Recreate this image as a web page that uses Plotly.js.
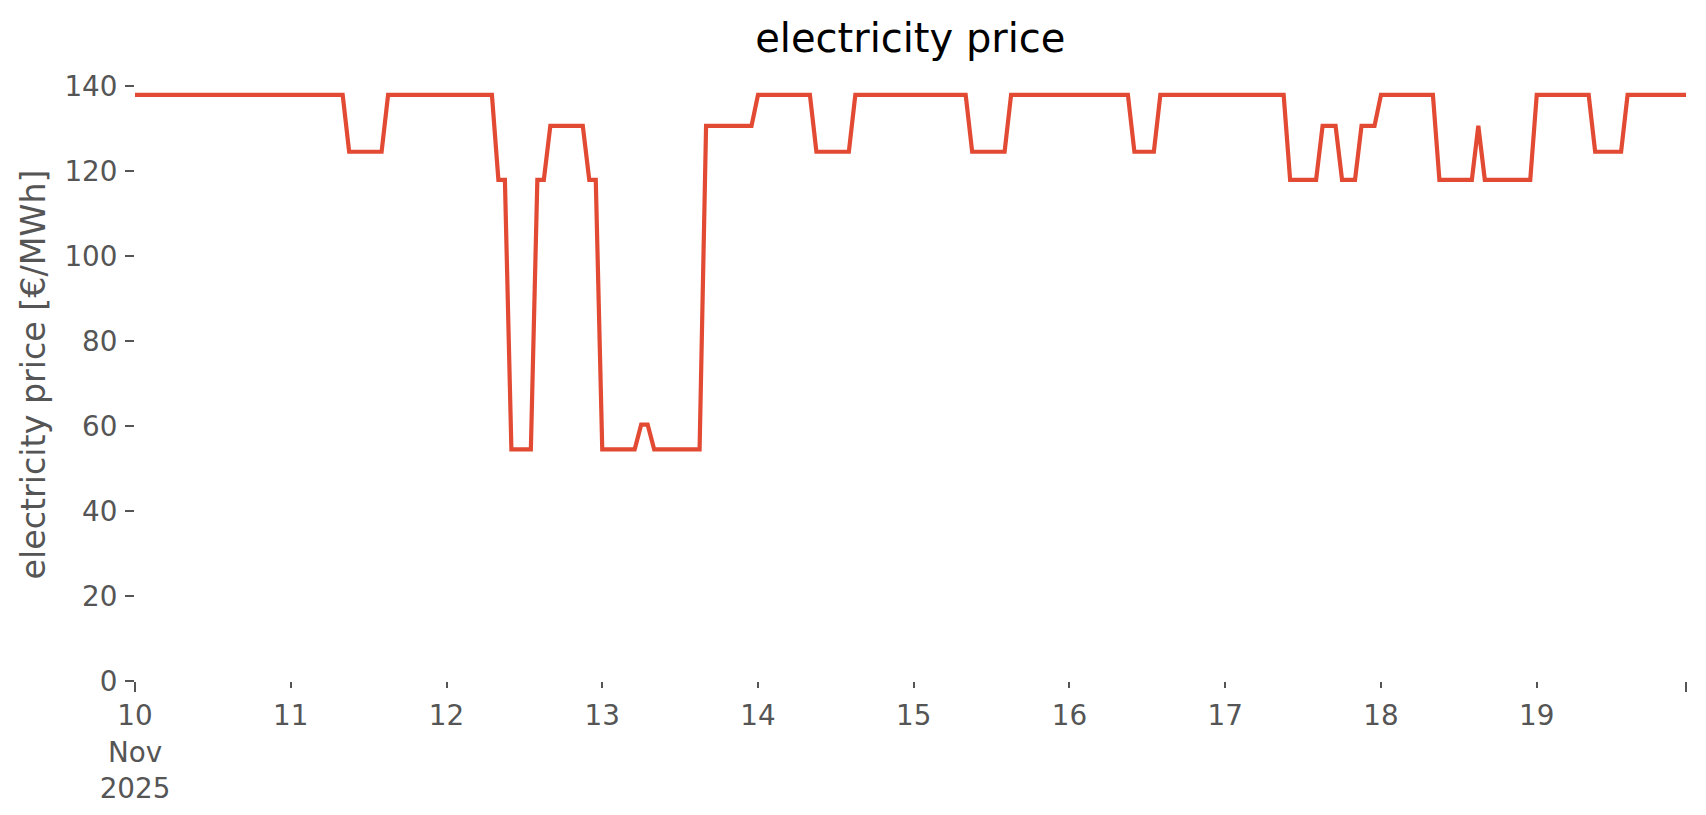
<!DOCTYPE html>
<html>
<head>
<meta charset="utf-8">
<script src="https://cdn.plot.ly/plotly-3.0.1.min.js"></script>
<style>html,body{margin:0;padding:0;background:#fff;}#chart{width:1706px;height:815px;}</style>
</head>
<body>
<div id="chart"></div>
<script>
// hourly electricity price [€/MWh], one array per day (hours 00..23)
const nov10 = [137.9,137.9,137.9,137.9,137.9,137.9,137.9,137.9,137.9,137.9,137.9,137.9,137.9,137.9,137.9,137.9,137.9,137.9,137.9,137.9,137.9,137.9,137.9,137.9];
const nov11 = [137.9,137.9,137.9,137.9,137.9,137.9,137.9,137.9,137.9,124.5,124.5,124.5,124.5,124.5,124.5,137.9,137.9,137.9,137.9,137.9,137.9,137.9,137.9,137.9];
const nov12 = [137.9,137.9,137.9,137.9,137.9,137.9,137.9,137.9,117.9,117.9,54.5,54.5,54.5,54.5,117.9,117.9,130.6,130.6,130.6,130.6,130.6,130.6,117.9,117.9];
const nov13 = [54.5,54.5,54.5,54.5,54.5,54.5,60.3,60.3,54.5,54.5,54.5,54.5,54.5,54.5,54.5,54.5,130.6,130.6,130.6,130.6,130.6,130.6,130.6,130.6];
const nov14 = [137.9,137.9,137.9,137.9,137.9,137.9,137.9,137.9,137.9,124.5,124.5,124.5,124.5,124.5,124.5,137.9,137.9,137.9,137.9,137.9,137.9,137.9,137.9,137.9];
const nov15 = [137.9,137.9,137.9,137.9,137.9,137.9,137.9,137.9,137.9,124.5,124.5,124.5,124.5,124.5,124.5,137.9,137.9,137.9,137.9,137.9,137.9,137.9,137.9,137.9];
const nov16 = [137.9,137.9,137.9,137.9,137.9,137.9,137.9,137.9,137.9,137.9,124.5,124.5,124.5,124.5,137.9,137.9,137.9,137.9,137.9,137.9,137.9,137.9,137.9,137.9];
const nov17 = [137.9,137.9,137.9,137.9,137.9,137.9,137.9,137.9,137.9,137.9,117.9,117.9,117.9,117.9,117.9,130.6,130.6,130.6,117.9,117.9,117.9,130.6,130.6,130.6];
const nov18 = [137.9,137.9,137.9,137.9,137.9,137.9,137.9,137.9,137.9,117.9,117.9,117.9,117.9,117.9,117.9,130.6,117.9,117.9,117.9,117.9,117.9,117.9,117.9,117.9];
const nov19 = [137.9,137.9,137.9,137.9,137.9,137.9,137.9,137.9,137.9,124.5,124.5,124.5,124.5,124.5,137.9,137.9,137.9,137.9,137.9,137.9,137.9,137.9,137.9,137.9];

const dayNumbers = [10,11,12,13,14,15,16,17,18,19];
const dayValues = [nov10,nov11,nov12,nov13,nov14,nov15,nov16,nov17,nov18,nov19];
const tickDays = ['2025-11-10','2025-11-11','2025-11-12','2025-11-13','2025-11-14','2025-11-15','2025-11-16','2025-11-17','2025-11-18','2025-11-19'];
const tickLabels = ['10<br>Nov<br>2025','11','12','13','14','15','16','17','18','19'];
const yTicks = [0,20,40,60,80,100,120,140];

const pad = n => (n < 10 ? '0' : '') + n;
const times = [], prices = [];
dayNumbers.forEach((d, i) => {
  dayValues[i].forEach((v, h) => {
    times.push('2025-11-' + pad(d) + ' ' + pad(h) + ':00');
    prices.push(v);
  });
});
const xStart = times[0], xEnd = times[times.length - 1];

const tickFont = {family: 'DejaVu Sans', size: 27.8, color: '#555555'};

const trace = {
  x: times, y: prices, type: 'scatter', mode: 'lines',
  line: {color: '#E24A33', width: 4.2},
  hoverinfo: 'skip', showlegend: false
};

const layout = {
  width: 1706, height: 815,
  paper_bgcolor: '#ffffff', plot_bgcolor: '#ffffff',
  margin: {l: 135, r: 20, t: 68, b: 134, pad: 0},
  font: {family: 'DejaVu Sans', color: '#555555'},
  title: {text: 'electricity price', font: {family: 'DejaVu Sans', size: 40, color: '#000000'},
          x: 0.5336, xanchor: 'center', xref: 'container', yref: 'container', y: 1 - 38/815, yanchor: 'middle'},
  xaxis: {
    type: 'date', range: [xStart, xEnd],
    tickmode: 'array', tickvals: tickDays, ticktext: tickLabels,
    ticks: 'outside', ticklen: 6, tickwidth: 2, tickcolor: '#555555',
    tickfont: tickFont, showgrid: false, zeroline: false, showline: false,
    ticklabelstandoff: 4
  },
  xaxis2: {
    type: 'date', range: [xStart, xEnd], overlaying: 'x', anchor: 'y', side: 'bottom',
    tickmode: 'array', tickvals: [xStart, xEnd], ticktext: ['', ''],
    ticks: 'outside', ticklen: 10, tickwidth: 2, tickcolor: '#555555',
    showticklabels: false, showgrid: false, zeroline: false, showline: false
  },
  yaxis: {
    range: [0, 144.2], tickmode: 'array', tickvals: yTicks,
    ticks: 'outside', ticklen: 9, tickwidth: 2, tickcolor: '#555555',
    tickfont: tickFont, showgrid: false, zeroline: false, showline: false,
    ticklabelstandoff: 2,
    title: {text: 'electricity price [€/MWh]', font: {family: 'DejaVu Sans', size: 33.3, color: '#555555'}, standoff: 8}
  }
};

Plotly.newPlot('chart', [trace, {x: [xStart], y: [null], xaxis: 'x2', yaxis: 'y', type: 'scatter', mode: 'lines', showlegend: false, hoverinfo: 'skip'}], layout, {displayModeBar: false, staticPlot: true});
</script>
</body>
</html>
